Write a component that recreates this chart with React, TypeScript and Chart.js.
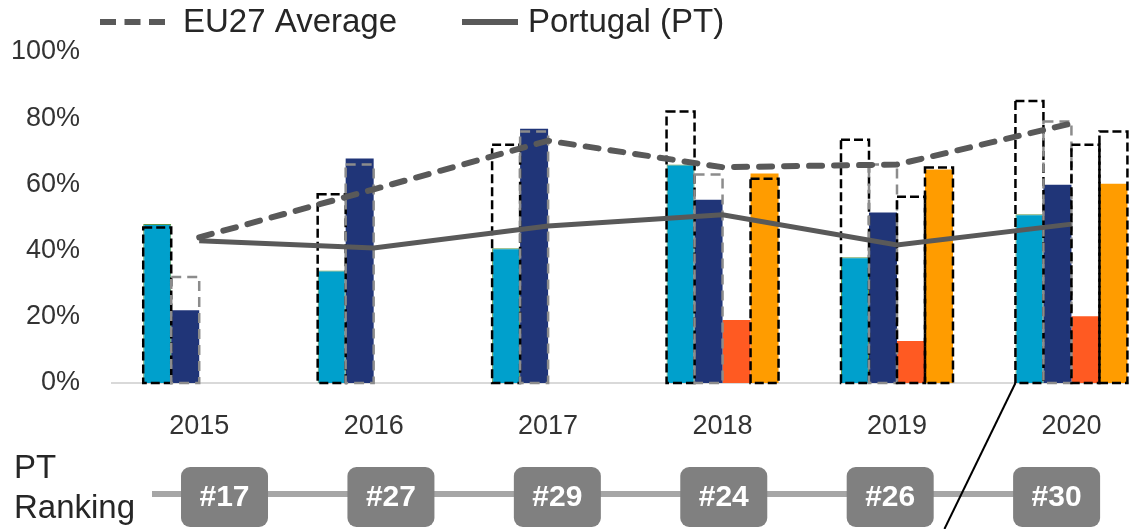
import { useEffect, useRef } from 'react';
import { Chart, registerables } from 'chart.js';

Chart.register(...registerables);

const years = ['2015', '2016', '2017', '2018', '2019', '2020'];
const cyanValues = [48.0, 34.0, 40.7, 66.0, 38.0, 51.0];
const navyValues = [22.0, 67.8, 76.8, 55.4, 51.5, 59.9];
const redValues = [null, null, null, 19.0, 12.7, 20.2];
const orangeValues = [null, null, null, 63.3, 64.5, 60.2];
const cyanEu = [47.0, 57.0, 72.0, 82.0, 73.5, 85.2];
const navyEu = [32.0, 66.0, 76.0, 63.0, 66.0, 79.0];
const redEu = [null, null, null, null, 56.3, 72.0];
const orangeEu = [null, null, null, 61.7, 65.1, 76.0];
const euAverage = [44.0, 58.5, 73.2, 65.2, 66.0, 78.4];
const portugal = [43.0, 40.8, 47.4, 50.8, 41.7, 48.0];
const ptRanking = ['#17', '#27', '#29', '#24', '#26', '#30'];
const yTicks = [0, 20, 40, 60, 80, 100];

const FONT = '"Liberation Sans", Arial, sans-serif';
const TEXT = '#262626';
const LINE_GREY = '#595959';

const pts = (arr: (number | null)[]) => arr.map((v, i) => ({ x: i, y: v }));

const overlayPlugin = {
  id: 'overlay',
  beforeDatasetDraw(chart: any, args: any) {
    if (args.index !== 1) return;
    const ctx = chart.ctx;
    chart.data.datasets.forEach((ds: any, i: number) => {
      if (!ds.outline) return;
      const meta = chart.getDatasetMeta(i);
      meta.data.forEach((el: any, j: number) => {
        const raw = ds.data[j];
        if (!raw || raw.y == null) return;
        const { x, y, base, width } = el.getProps(['x', 'y', 'base', 'width'], true);
        ctx.save();
        ctx.strokeStyle = ds.outline;
        ctx.lineWidth = 2.5;
        ctx.setLineDash(ds.dash);
        ctx.strokeRect(x - width / 2, y, width, base - y);
        ctx.restore();
      });
    });
  },
  afterDraw(chart: any) {
    const ctx = chart.ctx;
    const xs = chart.scales.x;
    ctx.save();
    // Legend
    const items = [
      { ds: chart.data.datasets[0], x0: 100, x1: 165, tx: 183, dash: [16, 8.5] },
      { ds: chart.data.datasets[1], x0: 462, x1: 518, tx: 528, dash: [] },
    ];
    items.forEach((it) => {
      ctx.beginPath();
      ctx.strokeStyle = it.ds.borderColor;
      ctx.lineWidth = 6;
      ctx.lineCap = 'butt';
      ctx.setLineDash(it.dash);
      ctx.moveTo(it.x0, 22);
      ctx.lineTo(it.x1, 22);
      ctx.stroke();
      ctx.setLineDash([]);
      ctx.fillStyle = TEXT;
      ctx.font = `33px ${FONT}`;
      ctx.textAlign = 'left';
      ctx.textBaseline = 'middle';
      ctx.fillText(it.ds.label, it.tx, 23);
    });

    // Ranking row
    ctx.fillStyle = TEXT;
    ctx.font = `33px ${FONT}`;
    ctx.textAlign = 'left';
    ctx.textBaseline = 'middle';
    ctx.fillText('PT', 14, 469);
    ctx.fillText('Ranking', 14, 509);

    const centers = ptRanking.map((_, j) => xs.getPixelForValue(0.145 + j * 0.954));
    ctx.beginPath();
    ctx.strokeStyle = '#a6a6a6';
    ctx.lineWidth = 6;
    ctx.moveTo(152, 494);
    ctx.lineTo(centers[centers.length - 1], 494);
    ctx.stroke();

    // diagonal annotation line from 2020 first bar corner
    const cMeta = chart.getDatasetMeta(6);
    const el = cMeta.data[5];
    if (el) {
      const { x, width, base } = el.getProps(['x', 'width', 'base'], true);
      ctx.beginPath();
      ctx.strokeStyle = '#000';
      ctx.lineWidth = 2;
      ctx.moveTo(x - width / 2, base);
      ctx.lineTo(x - width / 2 - 71, 529);
      ctx.stroke();
    }

    centers.forEach((cx, j) => {
      const w = 87, h = 60, top = 467;
      ctx.beginPath();
      ctx.fillStyle = '#808080';
      (ctx as any).roundRect(cx - w / 2, top, w, h, 9);
      ctx.fill();
      ctx.fillStyle = '#ffffff';
      ctx.font = `bold 30px ${FONT}`;
      ctx.textAlign = 'center';
      ctx.textBaseline = 'middle';
      ctx.fillText(ptRanking[j], cx, top + h / 2 + 1);
    });
    ctx.restore();
  },
};

export default function App() {
  const ref = useRef<HTMLCanvasElement | null>(null);
  useEffect(() => {
    document.body.style.margin = '0';
    if (!ref.current) return;
    const chart = new Chart(ref.current, {
      type: 'bar',
      data: {
        datasets: [
          {
            type: 'line', label: 'EU27 Average', data: pts(euAverage), borderColor: LINE_GREY,
            borderWidth: 6, borderDash: [13, 12], borderCapStyle: 'round', pointRadius: 0, tension: 0, fill: false,
          } as any,
          {
            type: 'line', label: 'Portugal (PT)', data: pts(portugal), borderColor: LINE_GREY,
            borderWidth: 5, pointRadius: 0, tension: 0, fill: false,
          } as any,
          { label: 'c', stack: 'c', data: pts(cyanValues), backgroundColor: '#00a0cc', borderColor: '#5f9645', borderWidth: 1 } as any,
          { label: 'n', stack: 'n', data: pts(navyValues), backgroundColor: '#203578', borderWidth: 0 } as any,
          { label: 'r', stack: 'r', data: pts(redValues), backgroundColor: '#ff5a22', borderWidth: 0 } as any,
          { label: 'o', stack: 'o', data: pts(orangeValues), backgroundColor: '#ff9c00', borderWidth: 0 } as any,
          { label: 'ce', stack: 'c', data: pts(cyanEu), backgroundColor: 'rgba(0,0,0,0)', borderWidth: 0, outline: '#000000', dash: [9, 4] } as any,
          { label: 'ne', stack: 'n', data: pts(navyEu), backgroundColor: 'rgba(0,0,0,0)', borderWidth: 0, outline: '#8c8c8c', dash: [10, 6] } as any,
          { label: 're', stack: 'r', data: pts(redEu), backgroundColor: 'rgba(0,0,0,0)', borderWidth: 0, outline: '#000000', dash: [9, 4] } as any,
          { label: 'oe', stack: 'o', data: pts(orangeEu), backgroundColor: 'rgba(0,0,0,0)', borderWidth: 0, outline: '#000000', dash: [9, 4] } as any,
        ],
      },
      options: {
        animation: false,
        responsive: false,
        layout: { padding: { top: 52, left: 0, right: 0, bottom: 0 } },
        plugins: { legend: { display: false }, tooltip: { enabled: false } },
        datasets: { bar: { categoryPercentage: 0.642, barPercentage: 1 } } as any,
        scales: {
          x: {
            type: 'linear', min: -0.5, max: 5.33, offset: false, bounds: 'data',
            grid: { display: false, drawTicks: false, offset: false },
            border: { display: true, color: '#d9d9d9', width: 2 },
            afterBuildTicks: (s: any) => { s.ticks = years.map((_, i) => ({ value: i })); },
            afterFit: (s: any) => { s.height = 146; },
            ticks: {
              autoSkip: false, maxRotation: 0, padding: 27, color: '#333333',
              font: { family: FONT, size: 27 },
              callback: (v: any) => years[v] ?? '',
            },
          },
          y: {
            min: 0, max: 100, stacked: false,
            grid: { display: false, drawTicks: false },
            border: { display: false },
            afterBuildTicks: (s: any) => { s.ticks = yTicks.map((v) => ({ value: v })); },
            afterFit: (s: any) => { s.width = 112; },
            ticks: {
              padding: 32, color: '#333333',
              font: { family: FONT, size: 27 },
              callback: (v: any) => `${v}%`,
            },
          },
        } as any,
      },
      plugins: [overlayPlugin],
    } as any);
    return () => chart.destroy();
  }, []);
  return (
    <div style={{ width: 1129, height: 529 }}>
      <canvas ref={ref} width={1129} height={529} style={{ display: 'block' }} />
    </div>
  );
}
